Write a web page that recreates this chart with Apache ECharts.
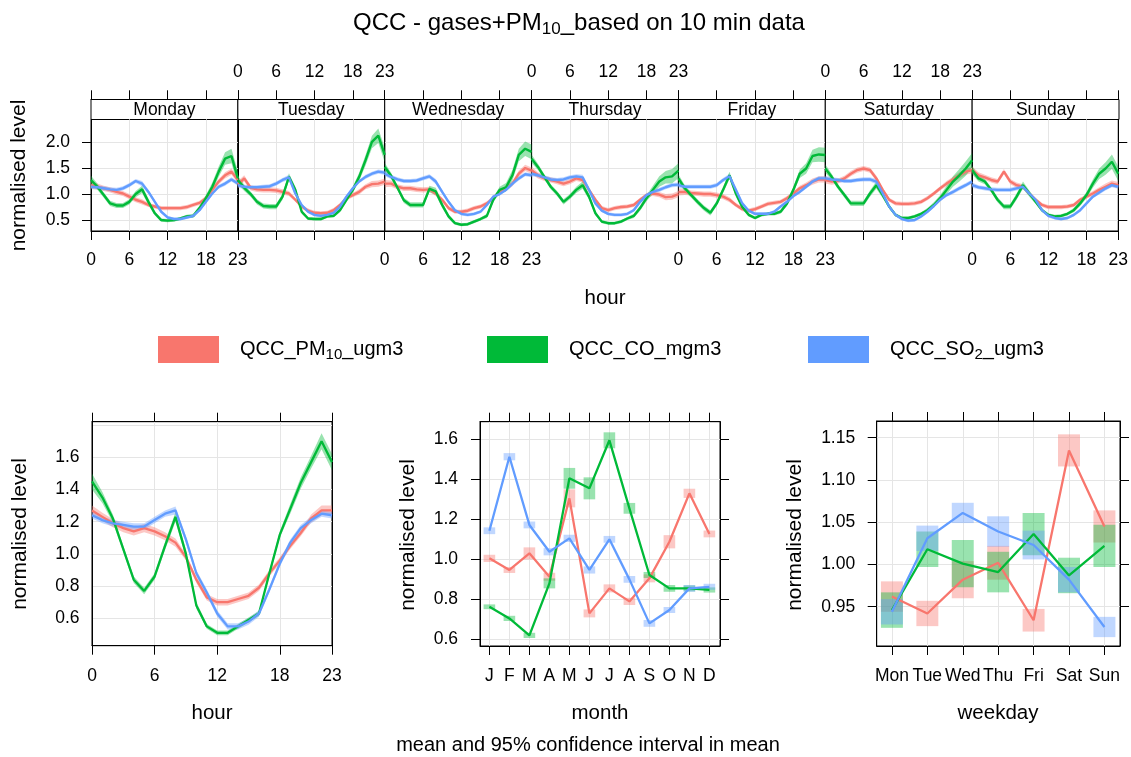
<!DOCTYPE html>
<html>
<head>
<meta charset="utf-8">
<title>QCC - gases+PM10 time variation</title>
<script src="https://cdn.jsdelivr.net/npm/echarts@6.0.0/dist/echarts.min.js"></script>
<style>
  html, body { margin: 0; padding: 0; background: #fff; }
  #chart { width: 1131px; height: 757px; }
</style>
</head>
<body>
<div id="chart"></div>
<script>
const FONT = '"Liberation Sans", Arial, Helvetica, sans-serif'

const names = ['QCC_PM10_ugm3', 'QCC_CO_mgm3', 'QCC_SO2_ugm3']
const colors = ['#F8766D', '#00BA38', '#619CFF']

const hours = ['0', '1', '2', '3', '4', '5', '6', '7', '8', '9', '10', '11',
  '12', '13', '14', '15', '16', '17', '18', '19', '20', '21', '22', '23']
const dayNames = ['Monday', 'Tuesday', 'Wednesday', 'Thursday', 'Friday', 'Saturday', 'Sunday']
const monthLabels = ['J', 'F', 'M', 'A', 'M', 'J', 'J', 'A', 'S', 'O', 'N', 'D']
const wdayLabels = ['Mon', 'Tue', 'Wed', 'Thu', 'Fri', 'Sat', 'Sun']

// day x hour means (top panel), one row per weekday
const pm10Week = [
  [1.17, 1.14, 1.11, 1.08, 1.04, 1.01, 0.95, 0.89, 0.85, 0.79, 0.76, 0.73, 0.73, 0.73, 0.73, 0.75, 0.79, 0.83, 0.92, 1.08, 1.24, 1.36, 1.43, 1.27],
  [1.18, 1.30, 1.12, 1.09, 1.08, 1.08, 1.07, 1.04, 1.01, 0.89, 0.76, 0.68, 0.64, 0.63, 0.64, 0.69, 0.79, 0.92, 0.98, 1.04, 1.14, 1.19, 1.20, 1.24],
  [1.20, 1.20, 1.14, 1.11, 1.11, 1.09, 1.08, 1.09, 1.01, 0.89, 0.73, 0.66, 0.66, 0.68, 0.73, 0.76, 0.82, 0.92, 1.04, 1.11, 1.20, 1.39, 1.50, 1.45],
  [1.46, 1.36, 1.30, 1.27, 1.24, 1.20, 1.24, 1.30, 1.27, 1.08, 0.89, 0.73, 0.69, 0.73, 0.75, 0.76, 0.79, 0.89, 0.98, 1.01, 0.99, 0.94, 0.95, 1.00],
  [1.04, 1.04, 1.02, 1.01, 1.00, 1.00, 0.98, 0.95, 0.89, 0.79, 0.71, 0.68, 0.71, 0.76, 0.81, 0.83, 0.85, 0.92, 1.01, 1.11, 1.17, 1.24, 1.28, 1.28],
  [1.27, 1.24, 1.25, 1.30, 1.39, 1.46, 1.49, 1.46, 1.30, 1.08, 0.89, 0.82, 0.81, 0.81, 0.82, 0.85, 0.92, 1.01, 1.11, 1.20, 1.28, 1.36, 1.43, 1.46],
  [1.46, 1.36, 1.32, 1.27, 1.24, 1.43, 1.24, 1.17, 1.14, 1.01, 0.89, 0.79, 0.75, 0.75, 0.75, 0.76, 0.79, 0.89, 0.95, 1.01, 1.08, 1.14, 1.20, 1.17]
]
const coWeek = [
  [1.27, 1.14, 0.98, 0.82, 0.78, 0.78, 0.85, 1.00, 1.09, 0.85, 0.63, 0.50, 0.49, 0.50, 0.53, 0.57, 0.58, 0.73, 0.92, 1.14, 1.43, 1.68, 1.73, 1.30],
  [1.27, 1.12, 1.00, 0.85, 0.77, 0.76, 0.76, 0.95, 1.33, 1.08, 0.66, 0.53, 0.52, 0.52, 0.57, 0.58, 0.69, 0.89, 1.08, 1.33, 1.65, 2.00, 2.12, 1.75],
  [1.52, 1.35, 1.12, 0.88, 0.79, 0.79, 0.79, 1.10, 1.05, 0.79, 0.57, 0.44, 0.41, 0.42, 0.47, 0.52, 0.58, 0.89, 1.08, 1.13, 1.36, 1.75, 1.87, 1.81],
  [1.68, 1.52, 1.33, 1.14, 1.01, 0.85, 0.95, 1.08, 1.17, 0.95, 0.63, 0.47, 0.44, 0.44, 0.47, 0.53, 0.58, 0.73, 0.92, 1.08, 1.24, 1.32, 1.34, 1.45],
  [1.30, 1.11, 0.98, 0.85, 0.73, 0.64, 0.82, 1.08, 1.36, 1.01, 0.75, 0.60, 0.54, 0.60, 0.62, 0.62, 0.66, 0.82, 1.08, 1.39, 1.49, 1.73, 1.76, 1.75],
  [1.49, 1.33, 1.14, 0.98, 0.82, 0.82, 0.82, 1.01, 1.17, 0.98, 0.76, 0.60, 0.54, 0.54, 0.57, 0.62, 0.69, 0.79, 0.92, 1.08, 1.24, 1.36, 1.49, 1.65],
  [1.46, 1.30, 1.24, 1.08, 0.89, 0.76, 0.76, 0.95, 1.17, 1.01, 0.85, 0.69, 0.60, 0.57, 0.58, 0.62, 0.69, 0.82, 0.98, 1.20, 1.39, 1.49, 1.62, 1.39]
]
const so2Week = [
  [1.14, 1.13, 1.11, 1.09, 1.08, 1.11, 1.17, 1.25, 1.20, 1.04, 0.85, 0.66, 0.55, 0.52, 0.52, 0.55, 0.58, 0.69, 0.85, 1.01, 1.14, 1.20, 1.28, 1.20],
  [1.17, 1.14, 1.13, 1.13, 1.14, 1.15, 1.20, 1.27, 1.32, 1.01, 0.79, 0.66, 0.60, 0.58, 0.60, 0.64, 0.76, 0.95, 1.11, 1.24, 1.33, 1.39, 1.43, 1.41],
  [1.39, 1.33, 1.28, 1.25, 1.25, 1.26, 1.30, 1.34, 1.24, 1.04, 0.85, 0.69, 0.62, 0.60, 0.62, 0.66, 0.79, 0.95, 1.00, 1.08, 1.20, 1.30, 1.38, 1.36],
  [1.39, 1.36, 1.32, 1.28, 1.27, 1.28, 1.32, 1.34, 1.32, 1.08, 0.82, 0.68, 0.62, 0.60, 0.60, 0.62, 0.69, 0.85, 0.98, 1.04, 1.08, 1.13, 1.17, 1.18],
  [1.17, 1.14, 1.14, 1.14, 1.14, 1.14, 1.17, 1.27, 1.34, 1.08, 0.82, 0.68, 0.62, 0.62, 0.62, 0.66, 0.76, 0.85, 0.96, 1.04, 1.14, 1.24, 1.30, 1.30],
  [1.30, 1.28, 1.27, 1.25, 1.25, 1.27, 1.28, 1.28, 1.24, 1.01, 0.76, 0.60, 0.52, 0.49, 0.50, 0.57, 0.66, 0.77, 0.89, 0.98, 1.04, 1.11, 1.17, 1.24],
  [1.17, 1.13, 1.11, 1.09, 1.08, 1.08, 1.08, 1.11, 1.14, 1.01, 0.89, 0.69, 0.58, 0.54, 0.52, 0.54, 0.60, 0.69, 0.82, 0.95, 1.03, 1.11, 1.17, 1.14]
]
// half widths of the 95% CI band by hour of day (top panel)
const pm10WeekCI = [0.07, 0.06, 0.05, 0.05, 0.05, 0.05, 0.05, 0.05, 0.05, 0.04, 0.04, 0.04, 0.04, 0.04, 0.04, 0.04, 0.04, 0.04, 0.04, 0.05, 0.05, 0.06, 0.06, 0.06]
const coWeekCI = [0.08, 0.06, 0.05, 0.05, 0.05, 0.05, 0.05, 0.06, 0.07, 0.06, 0.04, 0.03, 0.03, 0.03, 0.03, 0.03, 0.04, 0.05, 0.06, 0.08, 0.10, 0.12, 0.14, 0.14]
const so2WeekCI = [0.05, 0.04, 0.04, 0.04, 0.04, 0.04, 0.04, 0.04, 0.05, 0.04, 0.03, 0.03, 0.03, 0.03, 0.03, 0.03, 0.03, 0.03, 0.03, 0.03, 0.04, 0.04, 0.04, 0.04]

// hour of day (bottom left)
const pm10Hour = [1.27, 1.23, 1.19, 1.16, 1.14, 1.16, 1.14, 1.11, 1.07, 0.98, 0.84, 0.73, 0.70, 0.70, 0.72, 0.74, 0.79, 0.88, 0.96, 1.05, 1.13, 1.22, 1.27, 1.27]
const coHour = [1.45, 1.35, 1.22, 1.03, 0.84, 0.77, 0.86, 1.05, 1.23, 1.00, 0.68, 0.55, 0.51, 0.51, 0.55, 0.59, 0.63, 0.88, 1.12, 1.28, 1.44, 1.57, 1.70, 1.57]
const so2Hour = [1.24, 1.21, 1.19, 1.18, 1.17, 1.17, 1.21, 1.25, 1.27, 1.09, 0.88, 0.76, 0.63, 0.55, 0.55, 0.58, 0.63, 0.78, 0.94, 1.07, 1.16, 1.21, 1.25, 1.24]
const pm10HourCI = [0.03, 0.025, 0.025, 0.025, 0.025, 0.025, 0.025, 0.025, 0.025, 0.02, 0.02, 0.02, 0.02, 0.02, 0.02, 0.02, 0.02, 0.02, 0.02, 0.02, 0.02, 0.025, 0.03, 0.03]
const coHourCI = [0.05, 0.035, 0.025, 0.02, 0.02, 0.02, 0.02, 0.025, 0.03, 0.025, 0.02, 0.015, 0.015, 0.015, 0.015, 0.015, 0.015, 0.02, 0.02, 0.03, 0.035, 0.04, 0.05, 0.05]
const so2HourCI = [0.02, 0.02, 0.02, 0.02, 0.02, 0.02, 0.02, 0.02, 0.025, 0.02, 0.02, 0.02, 0.02, 0.02, 0.02, 0.02, 0.02, 0.02, 0.02, 0.02, 0.02, 0.02, 0.02, 0.02]

// month
const pm10Month = [1.005, 0.947, 1.03, 0.913, 1.305, 0.73, 0.855, 0.79, 0.905, 1.088, 1.33, 1.127]
const coMonth = [0.763, 0.705, 0.62, 0.88, 1.405, 1.355, 1.595, 1.255, 0.922, 0.855, 0.855, 0.847]
const so2Month = [1.143, 1.513, 1.172, 1.038, 1.105, 0.947, 1.1, 0.9, 0.68, 0.747, 0.855, 0.863]
const pm10MonthCI = [0.018, 0.015, 0.03, 0.02, 0.045, 0.02, 0.02, 0.018, 0.02, 0.033, 0.023, 0.017]
const coMonthCI = [0.012, 0.013, 0.013, 0.025, 0.052, 0.055, 0.04, 0.027, 0.015, 0.017, 0.015, 0.013]
const so2MonthCI = [0.017, 0.018, 0.017, 0.018, 0.018, 0.018, 0.017, 0.017, 0.017, 0.015, 0.017, 0.015]

// weekday
const pm10Wday = [0.962, 0.942, 0.982, 1.002, 0.934, 1.135, 1.045]
const coWday = [0.946, 1.018, 1.001, 0.991, 1.036, 0.987, 1.022]
const so2Wday = [0.944, 1.031, 1.061, 1.039, 1.023, 0.982, 0.926]
const pm10WdayCI = [0.018, 0.015, 0.022, 0.02, 0.0134, 0.019, 0.019]
const coWdayCI = [0.021, 0.021, 0.028, 0.024, 0.025, 0.021, 0.025]
const so2WdayCI = [0.015, 0.015, 0.012, 0.018, 0.017, 0.015, 0.012]

const weekTicks = [0.5, 1.0, 1.5, 2.0]
const hourTicks = [0.6, 0.8, 1.0, 1.2, 1.4, 1.6, 1.8]
const hourLabels = [0.6, 0.8, 1.0, 1.2, 1.4, 1.6]
const monthTicks = [0.6, 0.8, 1.0, 1.2, 1.4, 1.6]
const wdayTicks = [0.95, 1.0, 1.05, 1.1, 1.15]

const chart = echarts.init(document.getElementById('chart'))

const txt = { color: '#000', fontFamily: FONT }
const gridColor = '#e5e5e5'
const isTick = (i) => i % 6 === 0 || i === 23
const isGrid = (i) => i === 6 || i === 12 || i === 18

const grids = [], xAxes = [], yAxes = [], series = []

// ---- top: day x hour panels
const panelL = 91, panelR = 1119, W = (panelR - panelL) / 7
for (let d = 0; d < 7; d++) {
  grids.push({ left: panelL + d * W, top: 119.3, width: W, height: 111.7, show: true, borderColor: '#000', borderWidth: 1 })
  const cat = {
    type: 'category', gridIndex: d, data: hours, boundaryGap: false,
    axisLine: { onZero: false, lineStyle: { color: '#000' } },
    axisTick: { length: 9, interval: isTick, lineStyle: { color: '#000' } }
  }
  xAxes.push({ ...cat, position: 'bottom',
    axisLabel: { show: d % 2 === 0, interval: isTick, margin: 20, fontSize: 17.5, ...txt },
    splitLine: { show: true, interval: isGrid, lineStyle: { color: gridColor } } })
  xAxes.push({ ...cat, position: 'top', offset: 20,
    axisLabel: { show: d % 2 === 1, interval: isTick, margin: 18, fontSize: 17.5, ...txt },
    splitLine: { show: false } })
  const val = {
    type: 'value', gridIndex: d, min: 0.29, max: 2.435,
    axisLine: { show: true, onZero: false, lineStyle: { color: '#000' } }
  }
  yAxes.push({ ...val, position: 'left',
    axisTick: { show: d === 0, length: 9, customValues: weekTicks, lineStyle: { color: '#000' } },
    axisLabel: { show: d === 0, customValues: weekTicks, formatter: v => v.toFixed(1), margin: 21, fontSize: 17.5, ...txt },
    splitLine: { show: true, lineStyle: { color: gridColor } } })
  yAxes.push({ ...val, position: 'right',
    axisTick: { show: d === 6, length: 9, customValues: weekTicks, lineStyle: { color: '#000' } },
    axisLabel: { show: false }, splitLine: { show: false } })
}

// ---- bottom panels
function addPanel (g, box, xCfg, yCfg) {
  grids.push({ ...box, show: true, borderColor: '#000', borderWidth: 1 })
  const base = { gridIndex: g, axisLine: { show: true, onZero: false, lineStyle: { color: '#000' } } }
  xAxes.push({ ...base, ...xCfg.axis, position: 'bottom',
    axisTick: { length: 9, lineStyle: { color: '#000' }, ...xCfg.tick },
    axisLabel: { margin: 21, fontSize: 17.5, ...txt, ...xCfg.label },
    splitLine: { show: true, lineStyle: { color: gridColor }, ...xCfg.split } })
  xAxes.push({ ...base, ...xCfg.axis, position: 'top',
    axisTick: { length: 9, lineStyle: { color: '#000' }, ...xCfg.tick },
    axisLabel: { show: false }, splitLine: { show: false } })
  const yBase = { ...base, type: 'value', min: yCfg.min, max: yCfg.max }
  yAxes.push({ ...yBase, position: 'left',
    axisTick: { length: 9, customValues: yCfg.ticks, lineStyle: { color: '#000' } },
    axisLabel: { customValues: yCfg.labels, formatter: yCfg.fmt, margin: yCfg.margin, fontSize: 17.5, ...txt },
    splitLine: { show: true, lineStyle: { color: gridColor } } })
  yAxes.push({ ...yBase, position: 'right',
    axisTick: { length: 9, customValues: yCfg.ticks, lineStyle: { color: '#000' } },
    axisLabel: { show: false }, splitLine: { show: false } })
}

addPanel(7, { left: 92, top: 421.7, width: 240, height: 224 },
  { axis: { type: 'category', data: hours, boundaryGap: false },
    tick: { interval: isTick }, label: { interval: isTick }, split: { interval: isGrid } },
  { min: 0.43, max: 1.821, ticks: hourTicks, labels: hourLabels, fmt: v => v.toFixed(1), margin: 12.5 })

const monthIdx = monthLabels.map((_, i) => i)
addPanel(8, { left: 480, top: 421.7, width: 240, height: 224.3 },
  { axis: { type: 'value', min: -0.47, max: 11.53 },
    tick: { customValues: monthIdx }, label: { customValues: monthIdx, formatter: v => monthLabels[Math.round(v)] } },
  { min: 0.567, max: 1.688, ticks: monthTicks, labels: monthTicks, fmt: v => v.toFixed(1), margin: 22 })

const wdayIdx = wdayLabels.map((_, i) => i)
addPanel(9, { left: 876.7, top: 421, width: 243.3, height: 225 },
  { axis: { type: 'value', min: -0.43, max: 6.44 },
    tick: { customValues: wdayIdx }, label: { customValues: wdayIdx, formatter: v => wdayLabels[Math.round(v)] } },
  { min: 0.9035, max: 1.1698, ticks: wdayTicks, labels: wdayTicks, fmt: v => v.toFixed(2), margin: 21.5 })

// ---- series helpers
function band (g, mean, half, color, key) {
  const lo = mean.map((m, i) => +(m - half[i]).toFixed(4))
  const span = half.map(h => +(2 * h).toFixed(4))
  const base = { type: 'line', xAxisIndex: 2 * g, yAxisIndex: 2 * g, stack: key, symbol: 'none', silent: true, lineStyle: { opacity: 0 } }
  return [{ ...base, data: lo }, { ...base, data: span, areaStyle: { color, opacity: 0.4 } }]
}
function line (g, data, p, width) {
  return { type: 'line', name: names[p], xAxisIndex: 2 * g, yAxisIndex: 2 * g, data, symbol: 'none', silent: true,
    color: colors[p], lineStyle: { color: colors[p], width: width } }
}
function boxes (g, mean, half, p, frac) {
  return {
    type: 'custom', xAxisIndex: 2 * g, yAxisIndex: 2 * g, silent: true,
    encode: { x: 0, y: [1, 2] },
    data: mean.map((m, i) => [i, m - half[i], m + half[i]]),
    renderItem: (params, api) => {
      const top = api.coord([api.value(0), api.value(2)])
      const bot = api.coord([api.value(0), api.value(1)])
      const w = api.size([1, 0])[0] * frac
      return { type: 'rect', shape: { x: top[0] - w / 2, y: top[1], width: w, height: bot[1] - top[1] },
        style: { fill: colors[p], opacity: 0.4 } }
    }
  }
}

const week = [pm10Week, coWeek, so2Week]
const weekCI = [pm10WeekCI, coWeekCI, so2WeekCI]
for (let d = 0; d < 7; d++) {
  for (let p = 0; p < 3; p++) {
    series.push(...band(d, week[p][d], weekCI[p], colors[p], 'w' + d + p))
    series.push(line(d, week[p][d], p, 2.4))
  }
}
const hourData = [pm10Hour, coHour, so2Hour]
const hourCI = [pm10HourCI, coHourCI, so2HourCI]
for (let p = 0; p < 3; p++) {
  series.push(...band(7, hourData[p], hourCI[p], colors[p], 'h' + p))
  series.push(line(7, hourData[p], p, 2.3))
}
const monthData = [pm10Month, coMonth, so2Month]
const monthCI = [pm10MonthCI, coMonthCI, so2MonthCI]
const wdayData = [pm10Wday, coWday, so2Wday]
const wdayCI = [pm10WdayCI, coWdayCI, so2WdayCI]
for (let p = 0; p < 3; p++) {
  series.push(boxes(8, monthData[p], monthCI[p], p, 0.58))
  series.push(line(8, monthData[p].map((v, i) => [i, v]), p, 2.3))
}
for (let p = 0; p < 3; p++) {
  series.push(boxes(9, wdayData[p], wdayCI[p], p, 0.62))
  series.push(line(9, wdayData[p].map((v, i) => [i, v]), p, 2.3))
}

// ---- legends (one per key entry so each sits where the reference puts it)
const legendText = ['{a|QCC_PM}{s|10}{a|_ugm3}', '{a|QCC_CO_mgm3}', '{a|QCC_SO}{s|2}{a|_ugm3}']
const legendLeft = [153, 482, 803]
const legends = names.map((n, i) => ({
  data: [{ name: n, icon: 'rect', itemStyle: { color: colors[i] } }],
  left: legendLeft[i], top: 331, itemWidth: 61, itemHeight: 27, selectedMode: false,
  formatter: () => legendText[i],
  textStyle: { padding: [0, 0, 0, 16],
    rich: { a: { fontSize: 20, lineHeight: 26, ...txt }, s: { fontSize: 15, lineHeight: 15, verticalAlign: 'bottom', ...txt } } }
}))

// ---- texts
const graphics = []
for (let d = 0; d < 7; d++) {
  graphics.push({ type: 'rect', shape: { x: panelL + d * W, y: 99.5, width: W, height: 20 },
    style: { fill: '#fff', stroke: '#000', lineWidth: 1 } })
  graphics.push({ type: 'text', x: panelL + (d + 0.5) * W, y: 110,
    style: { text: dayNames[d], align: 'center', verticalAlign: 'middle', fontSize: 17.5, fontFamily: FONT, fill: '#000' } })
}
function label (text, x, y, rot, size) {
  return { type: 'text', x, y, rotation: rot ? Math.PI / 2 : 0,
    style: { text, align: 'center', verticalAlign: 'middle', fontSize: size, fontFamily: FONT, fill: '#000' } }
}
graphics.push({ type: 'text', x: 579, y: 23,
  style: { text: '{a|QCC - gases+PM}{s|10}{a|_based on 10 min data}', align: 'center', verticalAlign: 'middle',
    rich: { a: { fontSize: 24, lineHeight: 30, fontFamily: FONT, fill: '#000' },
      s: { fontSize: 17, lineHeight: 16, verticalAlign: 'bottom', fontFamily: FONT, fill: '#000' } } } })
graphics.push(label('normalised level', 19, 175.5, true, 21))
graphics.push(label('hour', 605, 298, false, 20.5))
graphics.push(label('normalised level', 20, 534, true, 21))
graphics.push(label('normalised level', 408, 535, true, 21))
graphics.push(label('normalised level', 795, 535, true, 21))
graphics.push(label('hour', 212, 713, false, 20.5))
graphics.push(label('month', 600, 713, false, 20.5))
graphics.push(label('weekday', 998, 713, false, 20.5))
graphics.push(label('mean and 95% confidence interval in mean', 588, 745, false, 20))

chart.setOption({
  backgroundColor: '#fff',
  animation: false,
  grid: grids,
  xAxis: xAxes,
  yAxis: yAxes,
  legend: legends,
  graphic: graphics,
  series
})
</script>
</body>
</html>
